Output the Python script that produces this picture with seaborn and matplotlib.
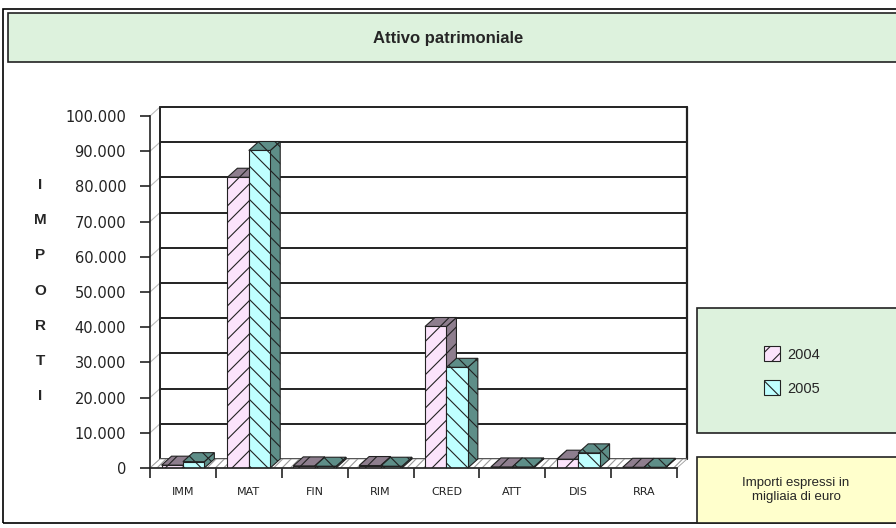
import matplotlib
matplotlib.use("Agg")
import matplotlib.pyplot as plt
from matplotlib.patches import Polygon, Rectangle, Patch
import seaborn as sns
import pandas as pd

# data (values in thousands of euro)
categories = ['IMM', 'MAT', 'FIN', 'RIM', 'CRED', 'ATT', 'DIS', 'RRA']
years = ['2004', '2005']
v2004 = [800, 82600, 600, 700, 40200, 300, 2500, 200]
v2005 = [1800, 90200, 500, 500, 28600, 300, 4300, 200]
yticks = [0, 10000, 20000, 30000, 40000, 50000, 60000, 70000, 80000, 90000, 100000]
ytick_labels = ['0', '10.000', '20.000', '30.000', '40.000', '50.000',
                '60.000', '70.000', '80.000', '90.000', '100.000']

front_colors = ['#FBE3FB', '#BFFFFF']
side_colors = ['#8E7E8E', '#5E8E88']
hatches = ['//', '\\\\']

df = pd.DataFrame({
    'categoria': categories * 2,
    'anno': [years[0]] * len(categories) + [years[1]] * len(categories),
    'importo': v2004 + v2005,
})

sns.set_style('white')
plt.rcParams['font.family'] = ['DejaVu Sans']
plt.rcParams['hatch.linewidth'] = 0.8
plt.rcParams['hatch.color'] = '#222222'
arial = ['Liberation Sans', 'DejaVu Sans']

W, H = 896, 528
fig = plt.figure(figsize=(W / 100, H / 100), dpi=100)


def fx(px):
    return px / W


def fy(py):
    return 1 - py / H


# outer frame and title box
fig.patches.append(Rectangle((fx(3), fy(523)), fx(900) - fx(3), fy(9) - fy(523),
                             transform=fig.transFigure, fill=False, edgecolor='black', lw=1.2))
fig.patches.append(Rectangle((fx(8), fy(62)), fx(900) - fx(8), fy(13) - fy(62),
                             transform=fig.transFigure, facecolor='#DDF2DD', edgecolor='#222222', lw=1.2))
fig.text(fx(448), fy(39), 'Attivo patrimoniale', ha='center', va='center',
         fontsize=12, fontweight='bold', family=arial)

# legend box and note box
fig.patches.append(Rectangle((fx(697), fy(433)), fx(900) - fx(697), fy(308) - fy(433),
                             transform=fig.transFigure, facecolor='#DDF2DD', edgecolor='#222222', lw=1.2))
fig.patches.append(Rectangle((fx(697), fy(523)), fx(900) - fx(697), fy(457) - fy(523),
                             transform=fig.transFigure, facecolor='#FFFFCC', edgecolor='#222222', lw=1.2))
fig.text(fx(796), fy(490), 'Importi espressi in\nmigliaia di euro', ha='center', va='center',
         fontsize=9.5, family=arial, linespacing=1.15)

# vertical axis title, one letter per line
for i, ch in enumerate('IMPORTI'):
    fig.text(fx(40), fy(185 + i * 35.2), ch, ha='center', va='center',
             fontsize=11, fontweight='bold', family=arial)

# plot area (front plane of the pseudo-3D chart)
x0, x1, y0, y1 = 150, 677, 468, 116
ax = fig.add_axes([fx(x0), fy(y0), fx(x1) - fx(x0), fy(y1) - fy(y0)])
ax.patch.set_visible(False)

sns.barplot(data=df, x='categoria', y='importo', hue='anno', palette=front_colors,
            width=0.65, saturation=1, edgecolor='#222222', linewidth=0.8,
            legend=False, ax=ax)

n = len(categories)
ax.set_xlim(-0.5, n - 0.5)
ax.set_ylim(0, 100000)

# depth offsets in data units
dx = 10 / ((x1 - x0) / n)
dy = 9 * 100000 / (y0 - y1)

# back wall, side wall and floor
for v in yticks:
    ax.plot([-0.5 + dx, n - 0.5 + dx], [v + dy, v + dy], color='#222222', lw=1.4,
            clip_on=False, zorder=0.5)
    ax.plot([-0.5, -0.5 + dx], [v, v + dy], color='#BBBBBB', lw=0.8, clip_on=False, zorder=0.5)
ax.plot([-0.5 + dx, -0.5 + dx], [dy, 100000 + dy], color='#222222', lw=1.4, clip_on=False, zorder=0.5)
ax.plot([n - 0.5 + dx, n - 0.5 + dx], [dy, 100000 + dy], color='#222222', lw=1.6, clip_on=False, zorder=0.5)
floor = Polygon([(-0.5, 0), (n - 0.5, 0), (n - 0.5 + dx, dy), (-0.5 + dx, dy)],
                closed=True, facecolor='white', edgecolor='#999999', hatch='////',
                lw=0.6, clip_on=False, zorder=0.8)
ax.add_patch(floor)

# turn flat bars into boxes: hatch, side and top faces
for j, cont in enumerate(ax.containers):
    for bar in cont:
        bx = bar.get_x()
        bw = bar.get_width()
        bh = bar.get_height()
        bar.set_hatch(hatches[j])
        bar.set_zorder(3 + 2 * j + 1)
        side = Polygon([(bx + bw, 0), (bx + bw + dx, dy), (bx + bw + dx, bh + dy), (bx + bw, bh)],
                       closed=True, facecolor=side_colors[j], edgecolor='#222222',
                       hatch=hatches[j], lw=0.8, clip_on=False, zorder=3 + 2 * j)
        top = Polygon([(bx, bh), (bx + dx, bh + dy), (bx + bw + dx, bh + dy), (bx + bw, bh)],
                      closed=True, facecolor=side_colors[j], edgecolor='#222222',
                      hatch=hatches[j], lw=0.8, clip_on=False, zorder=3 + 2 * j)
        ax.add_patch(side)
        ax.add_patch(top)

# axes, ticks and labels
sns.despine(ax=ax, top=True, right=True)
for s in ['left', 'bottom']:
    ax.spines[s].set_color('#222222')
    ax.spines[s].set_linewidth(1.2)
    ax.spines[s].set_zorder(10)
ax.set_yticks(yticks)
ax.set_yticklabels(ytick_labels, fontsize=10.5, color='#222222')
ax.tick_params(axis='y', direction='out', length=7.2, width=1.2, color='#222222', pad=10, left=True)
ax.set_xticks(range(n))
ax.set_xticklabels(categories, fontsize=8, color='#222222')
ax.set_xticks([k - 0.5 for k in range(n + 1)], minor=True)
ax.tick_params(axis='x', which='major', length=0, pad=14)
ax.tick_params(axis='x', which='minor', direction='out', length=7.2, width=1.2,
               color='#222222', bottom=True)
ax.set_xlabel('')
ax.set_ylabel('')

# legend
handles = [Patch(facecolor=front_colors[k], edgecolor='#222222', hatch=hatches[k], lw=0.8)
           for k in range(2)]
fig.legend(handles, years, loc='center', bbox_to_anchor=(fx(792), fy(371)),
           frameon=False, handlelength=1.1, handleheight=1.2,
           handletextpad=0.5, labelspacing=1.3, prop={'family': arial, 'size': 10.5})

fig.savefig('out.png', dpi=100)
